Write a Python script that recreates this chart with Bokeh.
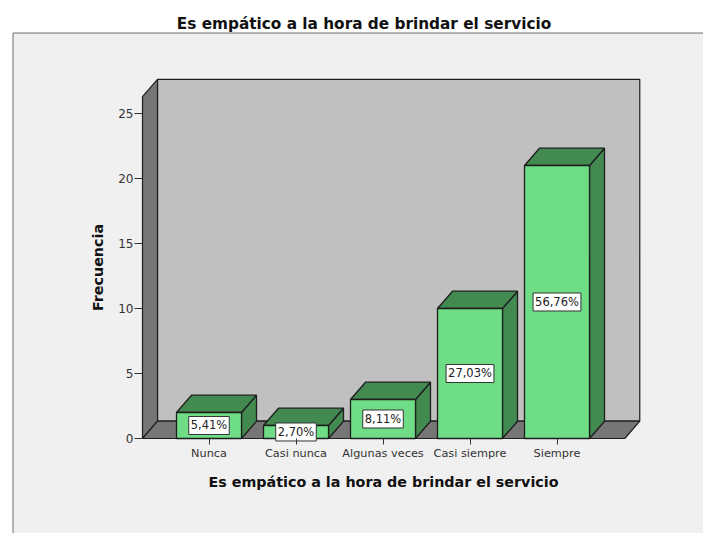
from bokeh.plotting import figure
from bokeh.models import LinearAxis, FixedTicker
from bokeh.core.properties import value
from bokeh.embed import file_html
from bokeh.resources import INLINE

# ---- data ----
categories = ["Nunca", "Casi nunca", "Algunas veces", "Casi siempre", "Siempre"]
counts = [2, 1, 3, 10, 21]
y_ticks = [0, 5, 10, 15, 20, 25]
title_text = "Es empático a la hora de brindar el servicio"
x_label = "Es empático a la hora de brindar el servicio"
y_label = "Frecuencia"

total = sum(counts)
pct_labels = [f"{c / total * 100:.2f}%".replace(".", ",") for c in counts]
positions = list(range(1, len(categories) + 1))

# ---- geometry (data units) ----
X_START, X_END = -1.3966, 6.6839
Y_START, Y_END = -7.3077, 33.692
L, R = 0.2356, 5.779        # floor front edge
TOP = 26.3                  # wall height
DX, DY = 0.1724, 1.33       # depth offset
HW = 0.3736                 # half bar width

FONT = value("DejaVu Sans")
EDGE = "#1e1e1e"

p = figure(width=703, height=533, x_range=(X_START, X_END), y_range=(Y_START, Y_END),
           output_backend="svg", toolbar_location=None, min_border=0,
           x_axis_location=None, y_axis_location=None)
p.background_fill_color = "white"
p.border_fill_color = "white"
p.outline_line_color = None
p.grid.visible = False

# outer chart box
p.quad(left=[-1.2529], right=[7.5], bottom=[-9.0], top=[31.19],
       fill_color="#f0f0f0", line_color="#6e6e6e", line_width=1)

# back wall
p.patch([L + DX, R + DX, R + DX, L + DX], [DY, DY, TOP + DY, TOP + DY],
        fill_color="#c0c0c0", line_color=EDGE, line_width=1.2)
# left side wall
p.patch([L, L, L + DX, L + DX], [0, TOP, TOP + DY, DY],
        fill_color="#767676", line_color=EDGE, line_width=1.2)
# floor
p.patch([L, R, R + DX, L + DX], [0, 0, DY, DY],
        fill_color="#767676", line_color=EDGE, line_width=1.2)

# bars
front_xs, front_ys, top_xs, top_ys, side_xs, side_ys = [], [], [], [], [], []
for xc, v in zip(positions, counts):
    x0, x1 = xc - HW, xc + HW
    front_xs.append([x0, x1, x1, x0]); front_ys.append([0, 0, v, v])
    top_xs.append([x0, x1, x1 + DX, x0 + DX]); top_ys.append([v, v, v + DY, v + DY])
    side_xs.append([x1, x1 + DX, x1 + DX, x1]); side_ys.append([0, DY, v + DY, v])

p.patches(side_xs, side_ys, fill_color="#438a50", line_color=EDGE, line_width=1.3)
p.patches(top_xs, top_ys, fill_color="#438a50", line_color=EDGE, line_width=1.3)
p.patches(front_xs, front_ys, fill_color="#6fdd86", line_color=EDGE, line_width=1.3)

# percentage labels
p.text(x=positions, y=[v / 2 for v in counts], text=pct_labels,
       text_font=FONT, text_font_size="11.5px", text_color="#222222",
       text_align="center", text_baseline="middle",
       background_fill_color="white", border_line_color="#333333",
       border_line_width=1, padding=2)

# title
p.text(x=[2.7816], y=[31.846], text=[title_text], text_font=FONT,
       text_font_style="bold", text_font_size="15.3px", text_color="#111111",
       text_align="center", text_baseline="alphabetic")

# axes
yaxis = LinearAxis(fixed_location=L, bounds=(0, TOP), ticker=FixedTicker(ticks=y_ticks),
                   axis_line_color=None, major_tick_out=8, major_tick_in=0,
                   major_tick_line_color="#333333", minor_tick_line_color=None,
                   major_label_standoff=1, major_label_text_font="DejaVu Sans",
                   major_label_text_font_size="12px", major_label_text_color="#333333",
                   axis_label=y_label, axis_label_standoff=9,
                   axis_label_text_font="DejaVu Sans", axis_label_text_font_style="bold",
                   axis_label_text_font_size="14.3px", axis_label_text_color="#111111")
p.add_layout(yaxis, "left")

xaxis = LinearAxis(fixed_location=0, bounds=(L, R), ticker=FixedTicker(ticks=positions),
                   major_label_overrides={pos: c for pos, c in zip(positions, categories)},
                   axis_line_color=None, major_tick_out=6, major_tick_in=0,
                   major_tick_line_color="#333333", minor_tick_line_color=None,
                   major_label_standoff=3, major_label_text_font="DejaVu Sans",
                   major_label_text_font_size="11.3px", major_label_text_color="#333333",
                   axis_label=x_label, axis_label_standoff=10,
                   axis_label_text_font="DejaVu Sans", axis_label_text_font_style="bold",
                   axis_label_text_font_size="14.3px", axis_label_text_color="#111111")
p.add_layout(xaxis, "below")

open("out.html", "w").write(file_html(p, INLINE))
